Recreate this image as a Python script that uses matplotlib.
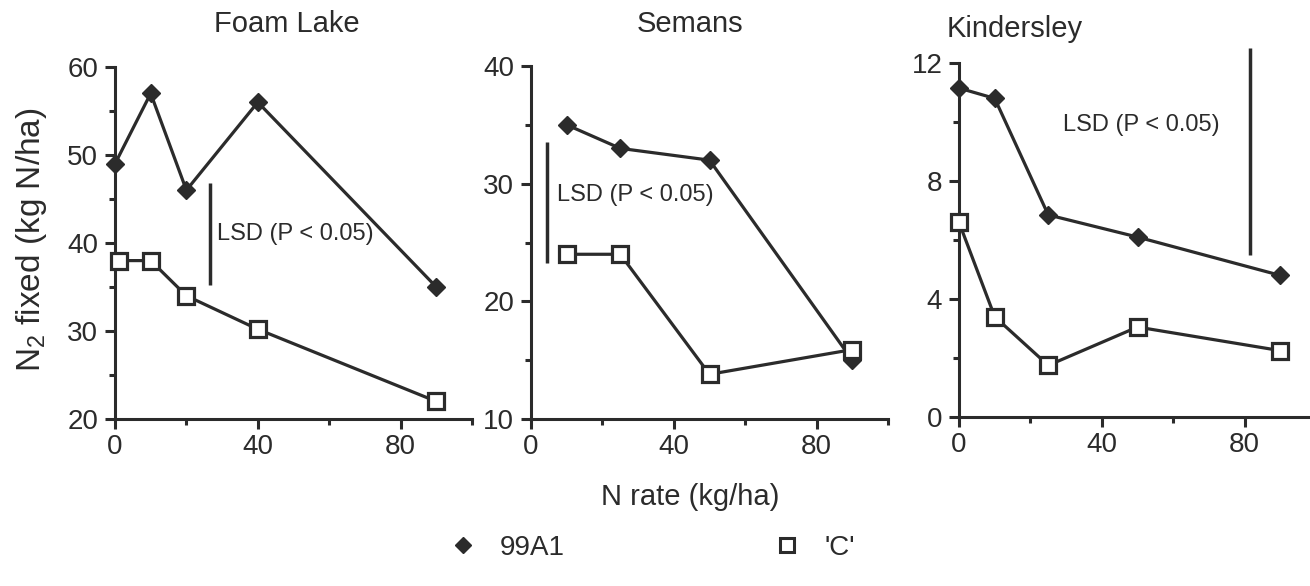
import matplotlib
matplotlib.use("Agg")
import matplotlib.pyplot as plt
from matplotlib.lines import Line2D

plt.rcParams['font.family'] = ['Liberation Sans', 'DejaVu Sans']
plt.rcParams['mathtext.default'] = 'regular'

# ---------------- data ----------------
sites = ["Foam Lake", "Semans", "Kindersley"]

fl_x_99 = [0, 10, 20, 40, 90]
fl_y_99 = [49, 57, 46, 56, 35]
fl_x_c = [1, 10, 20, 40, 90]
fl_y_c = [38, 38, 34, 30.2, 22]

se_x_99 = [10, 25, 50, 90]
se_y_99 = [35, 33, 32, 15]
se_x_c = [10, 25, 50, 90]
se_y_c = [24, 24, 13.8, 15.9]

ki_x_99 = [0, 10, 25, 50, 90]
ki_y_99 = [11.15, 10.8, 6.85, 6.1, 4.8]
ki_x_c = [0, 10, 25, 50, 90]
ki_y_c = [6.6, 3.4, 1.75, 3.05, 2.25]

# LSD bars: x position, low, high
lsd_x = [26.5, 4.5, 81.5]
lsd_low = [35.2, 23.3, 5.5]
lsd_high = [46.8, 33.5, 12.5]

ylims = [(20, 60), (10, 40), (0, 12)]
yticks = [[20, 30, 40, 50, 60], [10, 20, 30, 40], [0, 4, 8, 12]]
yminor = [[25, 35, 45, 55], [15, 25, 35], [2, 6, 10]]
xticks = [0, 40, 80]
xminor = [20, 60, 100]

series_label = ["99A1", "'C'"]

# ---------------- figure ----------------
W, H = 1310, 586
fig = plt.figure(figsize=(W / 100, H / 100), dpi=100)
col = "#2b2b2b"

# axes in pixel coordinates (left, bottom_y, top_y)
boxes = [(115, 419, 67), (531, 419, 66), (959, 417, 63)]
axw = 357

data = [
    (fl_x_99, fl_y_99, fl_x_c, fl_y_c),
    (se_x_99, se_y_99, se_x_c, se_y_c),
    (ki_x_99, ki_y_99, ki_x_c, ki_y_c),
]

lsd_text_pos = [(28.5, 41.0), (7.3, 29.0), (29, 9.9)]
title_pos = [(287, 24), (690, 24), (1015, 29)]

for i in range(3):
    l, b, t = boxes[i]
    ax = fig.add_axes([l / W, (H - b) / H, axw / W, (b - t) / H])
    x99, y99, xc, yc = data[i]
    ax.plot(x99, y99, color=col, lw=2.3, marker="D", ms=9,
            mfc=col, mec=col, clip_on=False, zorder=3)
    ax.plot(xc, yc, color=col, lw=2.3, marker="s", ms=11,
            mfc="white", mec=col, mew=2.3, clip_on=False, zorder=4)
    ax.plot([lsd_x[i], lsd_x[i]], [lsd_low[i], lsd_high[i]],
            color=col, lw=2.5, clip_on=False, solid_capstyle="butt")
    tx, ty = lsd_text_pos[i]
    ax.text(tx, ty, "LSD (P < 0.05)", fontsize=17, color=col,
            ha="left", va="center")
    ax.set_xlim(0, 100)
    ax.set_ylim(*ylims[i])
    ax.set_yticks(yticks[i])
    ax.set_yticks(yminor[i], minor=True)
    ax.set_xticks(xticks)
    ax.set_xticks(xminor, minor=True)
    for s in ["top", "right"]:
        ax.spines[s].set_visible(False)
    for s in ["left", "bottom"]:
        ax.spines[s].set_linewidth(2.2)
        ax.spines[s].set_color(col)
    ax.tick_params(which="major", direction="out", length=7, width=2.2,
                   color=col, labelsize=20, labelcolor=col)
    ax.tick_params(axis="y", which="major", pad=5)
    ax.tick_params(axis="x", which="major", pad=4)
    ax.tick_params(which="minor", direction="out", length=4, width=2.2,
                   color=col)
    ax.patch.set_alpha(0)
    fig.text(title_pos[i][0] / W, 1 - title_pos[i][1] / H, sites[i],
             fontsize=21, color=col, ha="center", va="center")

fig.text(32 / W, 1 - 240 / H, "N$_2$ fixed (kg N/ha)", rotation=90,
         fontsize=24, color=col, ha="center", va="center")
fig.text(690 / W, 1 - 497 / H, "N rate (kg/ha)", fontsize=21, color=col,
         ha="center", va="center")

handles = [
    Line2D([], [], ls="none", marker="D", ms=8, mfc=col, mec=col),
    Line2D([], [], ls="none", marker="s", ms=10, mfc="white", mec=col, mew=2.2),
]
fig.legend(handles, series_label, loc="center", bbox_to_anchor=(645 / W, 1 - 548 / H),
           ncol=2, frameon=False, fontsize=20, handletextpad=0.35,
           columnspacing=7.0, labelcolor=col)

fig.savefig("out.png", dpi=100, facecolor="white")
